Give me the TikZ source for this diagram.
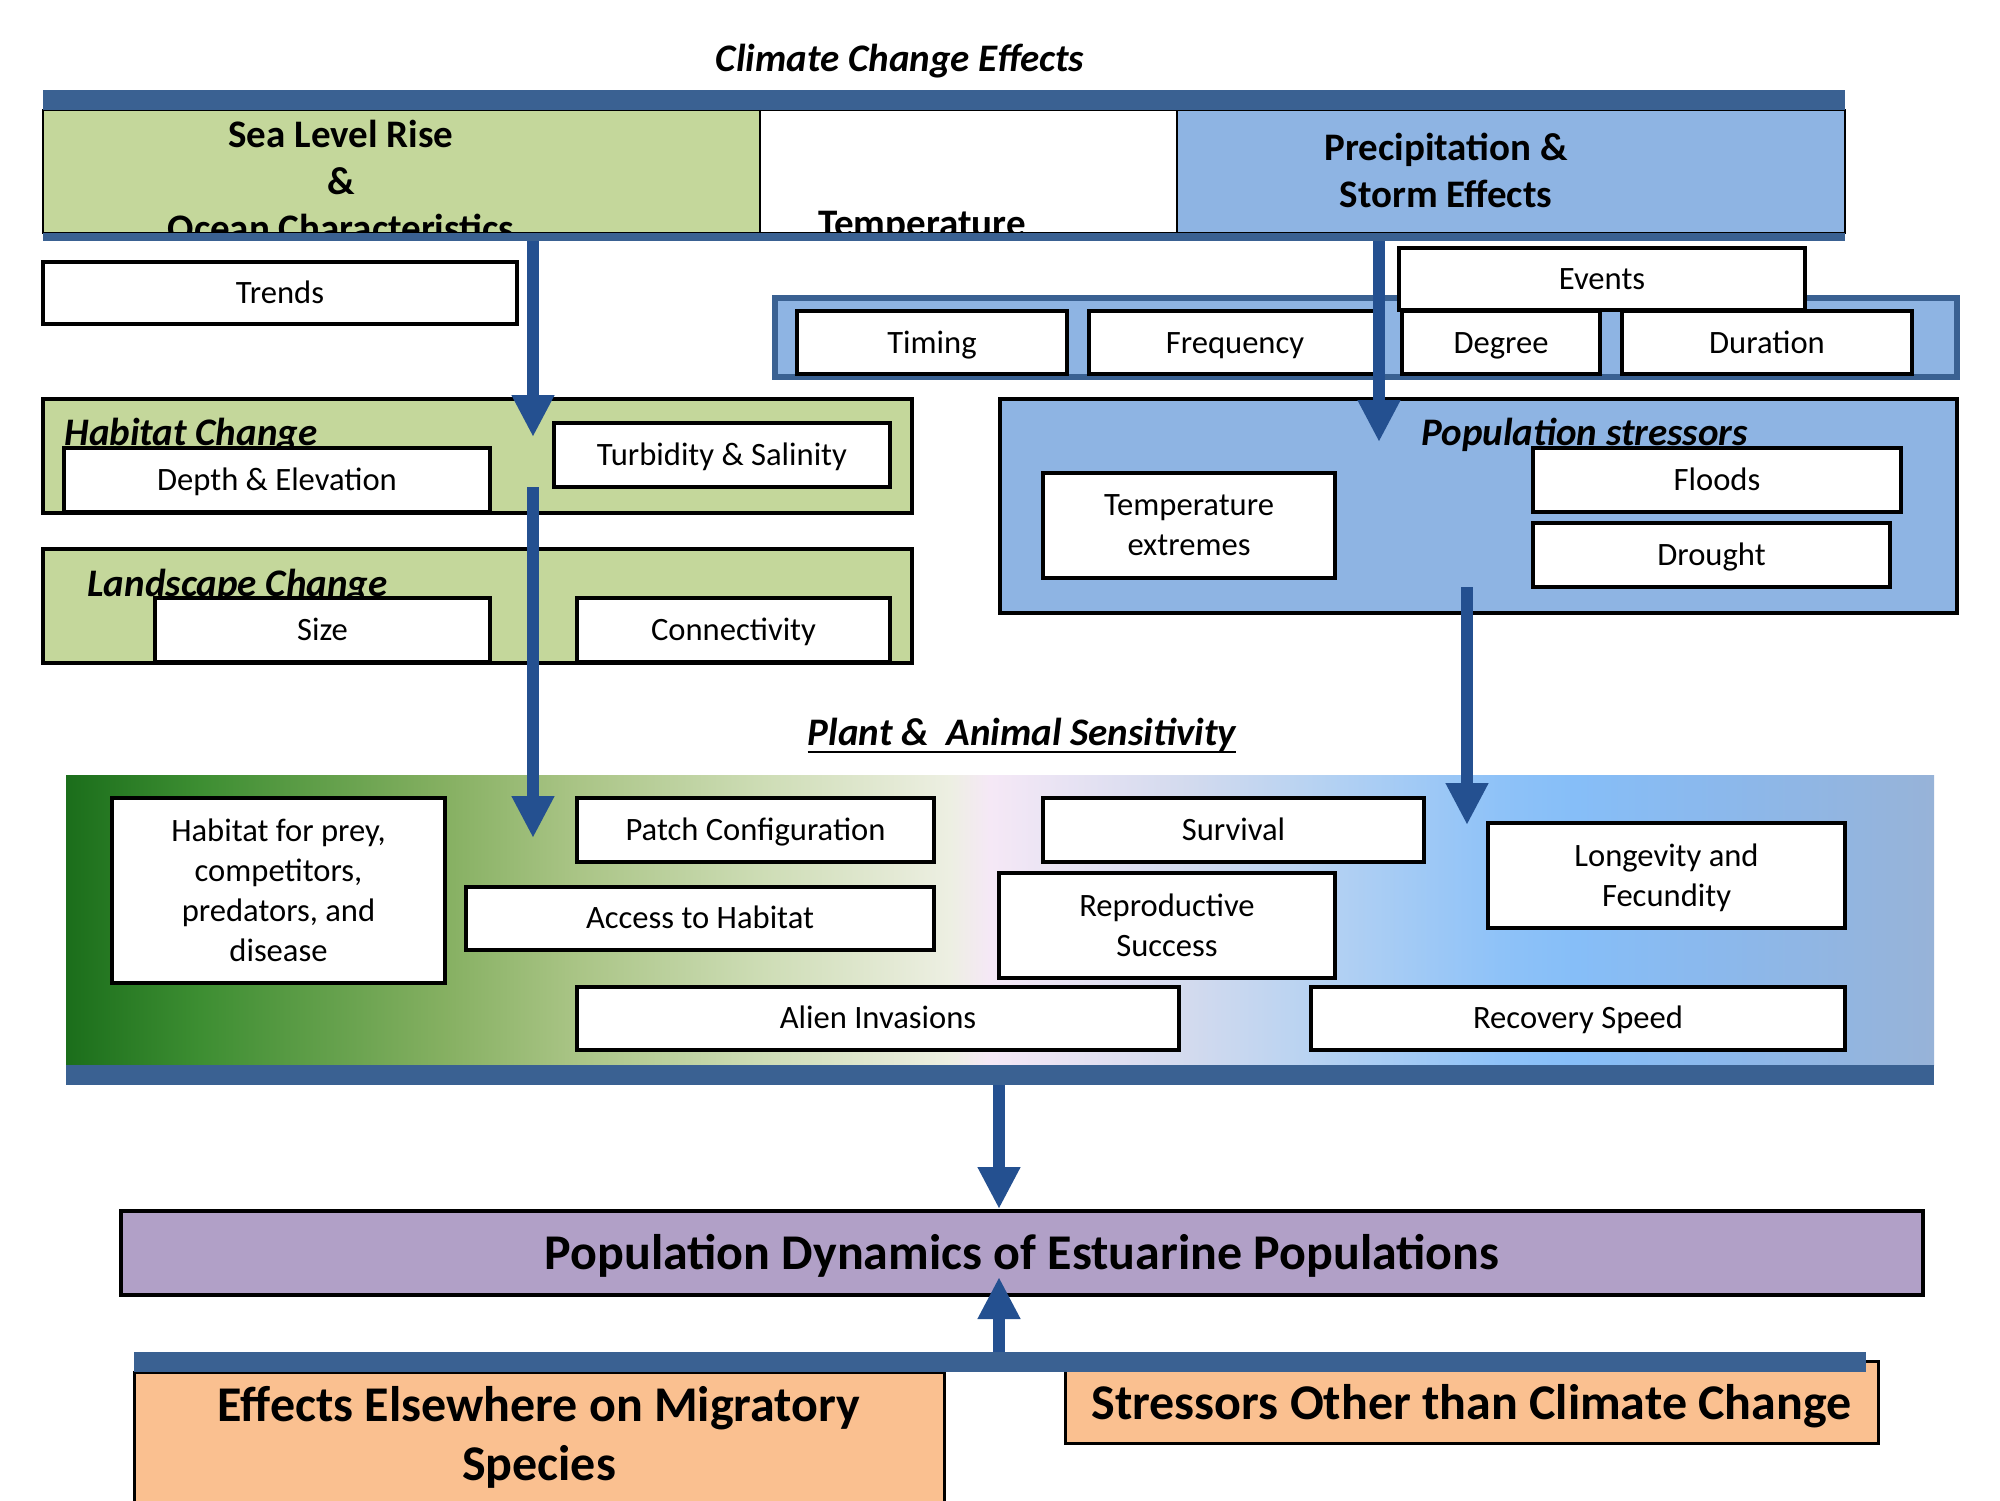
\documentclass[tikz,border=0pt]{standalone}
\usepackage{fontspec}
\setmainfont{Carlito}
\usetikzlibrary{arrows.meta}
\definecolor{barblue}{HTML}{3A6192}
\definecolor{arrowblue}{HTML}{245090}
\definecolor{panelgreen}{HTML}{C4D79B}
\definecolor{panelblue}{HTML}{8EB4E3}
\definecolor{lavender}{HTML}{B1A0C7}
\definecolor{peach}{HTML}{FAC090}
\definecolor{g0}{HTML}{1B6E1B}
\definecolor{g1}{HTML}{3D8E32}
\definecolor{g2}{HTML}{86B062}
\definecolor{g3}{HTML}{A9C485}
\definecolor{g4}{HTML}{CEDDB6}
\definecolor{g5}{HTML}{EDEFE2}
\definecolor{g6}{HTML}{F5E8F6}
\definecolor{g7}{HTML}{D2DAEE}
\definecolor{g8}{HTML}{B6D2F2}
\definecolor{g9}{HTML}{8EC2F8}
\definecolor{g10}{HTML}{86BEF8}
\definecolor{g11}{HTML}{8BB8EC}
\definecolor{g12}{HTML}{97B3D8}
\pgfdeclarehorizontalshading{bandshade}{100bp}{color(0bp)=(g0); color(25bp)=(g0); color(28.59bp)=(g1); color(35.17bp)=(g2); color(38.6bp)=(g3); color(43.71bp)=(g4); color(48.66bp)=(g5); color(49.73bp)=(g6); color(55.11bp)=(g7); color(58.54bp)=(g8); color(63.38bp)=(g9); color(65.36bp)=(g10); color(69.27bp)=(g11); color(75bp)=(g12); color(100bp)=(g12)}
\begin{document}
\begin{tikzpicture}[x=0.5pt,y=-0.5pt,
  wh/.style 2 args={minimum width=#1pt, minimum height=#2pt},
  box/.style={draw=black, line width=2.4pt, fill=white, inner sep=0pt, align=center, font=\fontsize{16.3}{20}\selectfont},
  sbox/.style={box, text height=12pt, text depth=2pt},
  rbox/.style={box, text height=12pt, text depth=1pt},
  grp/.style={draw=black, line width=1.6pt, inner sep=0pt},
  panel/.style={draw=black, line width=1.4pt, inner sep=0pt},
  hdr/.style={font=\fontsize{19.5}{23.5}\selectfont\bfseries, align=center, inner sep=0pt},
  lbl/.style={font=\fontsize{19.5}{23}\selectfont\bfseries\itshape, inner sep=0pt},
  bigbox/.style={draw=black, inner sep=0pt, align=center, font=\fontsize{25}{29.3}\selectfont\bfseries},
  bar/.style={fill=barblue, draw=none, inner sep=0pt},
  flow/.style={draw=arrowblue, line width=6pt, -{Triangle[width=20pt,length=21pt]}}]
\useasboundingbox (0,0) rectangle (2000,1500);
\clip (0,0) rectangle (2000,1500);

% title
\node[lbl, anchor=base] (title) at (900,71) {Climate Change Effects};

% top panels
\node[panel, fill=panelgreen, wh={358.5}{61.5}] (slr) at (401.5,171.5) {};
\node[panel, fill=white, wh={208.5}{61.5}] (temp) at (968.5,171.5) {};
\node[panel, fill=panelblue, wh={334}{61.5}] (precip) at (1511,171.5) {};
\begin{scope}
\clip (43,110) rectangle (1845,233);
\node[hdr] (slrt) at (341,180.5) {Sea Level Rise\\\&\\Ocean Characteristics};
\node[hdr, anchor=base] (tempt) at (922,236) {Temperature};
\end{scope}
\node[hdr] (prect) at (1446,170.5) {Precipitation \&\\Storm Effects};
\node[bar, wh={901}{10}] (topbar) at (944,100) {};
\node[bar, wh={901}{4}] (midbar) at (944,237) {};

% trends and events strip
\node[sbox, wh={237}{31}] (trends) at (280,293) {Trends};
\node[draw=barblue, line width=3pt, fill=panelblue, inner sep=0pt, wh={591}{39.5}] (strip) at (1366,337.5) {};
\node[rbox, wh={135}{31.5}] (timing) at (932,342.5) {Timing};
\node[rbox, wh={146}{31.5}] (freq) at (1235,342.5) {Frequency};
\node[rbox, wh={99}{31.5}] (degree) at (1501,342.5) {Degree};
\node[rbox, wh={145}{31.5}] (duration) at (1767,342.5) {Duration};
\node[sbox, wh={203}{31}] (events) at (1602,279) {Events};

% habitat change
\node[grp, fill=panelgreen, wh={434.5}{57}] (habgrp) at (477.5,456) {};
\node[lbl, anchor=base west] (habl) at (64,445) {Habitat Change};
\node[sbox, wh={213}{32}] (depth) at (277,480) {Depth \& Elevation};
\node[sbox, wh={168}{32}] (turb) at (722,455) {Turbidity \& Salinity};

% landscape change
\node[grp, fill=panelgreen, wh={434.5}{57}] (landgrp) at (477.5,606) {};
\node[lbl, anchor=base west] (landl) at (87,596) {Landscape Change};
\node[sbox, wh={167.5}{32}] (size) at (322.5,630) {Size};
\node[sbox, wh={156.5}{32}] (conn) at (733.5,630) {Connectivity};

% population stressors
\node[grp, fill=panelblue, wh={478.5}{107}] (popgrp) at (1478.5,506) {};
\node[lbl, anchor=base west] (popl) at (1421,445) {Population stressors};
\node[box, wh={146}{52.5}] (textr) at (1189,525.5) {Temperature\\extremes};
\node[sbox, wh={184}{32}] (floods) at (1717,480) {Floods};
\node[sbox, wh={178.5}{32}] (drought) at (1711.5,555) {Drought};

% plant & animal sensitivity
\node[lbl, anchor=base] (pas) at (1022,745) {Plant \&\ \ Animal Sensitivity};
\draw[line width=1.3pt] ([yshift=-3.5pt]pas.base west) -- ([yshift=-3.5pt]pas.base east);

\shade[shading=bandshade] (66,775) rectangle (1934,1065);
\node[bar, wh={934}{10}] (bandbar) at (1000,1075) {};
\node[box, wh={166.5}{92.5}] (prey) at (278.5,890.5) {Habitat for prey,\\competitors,\\predators, and\\disease};
\node[sbox, wh={178.5}{32}] (patch) at (755.5,830) {Patch Configuration};
\node[sbox, wh={234}{31.5}] (access) at (700,918.5) {Access to Habitat};
\node[sbox, wh={301}{31.5}] (alien) at (878,1018.5) {Alien Invasions};
\node[sbox, wh={190.5}{32}] (surv) at (1233.5,830) {Survival};
\node[box, wh={168}{52.5}] (repro) at (1167,925.5) {Reproductive\\Success};
\node[box, text depth=0pt, wh={178.5}{52.5}] (longev) at (1666.5,875.5) {Longevity and\\Fecundity};
\node[sbox, wh={267}{31.5}] (recov) at (1578,1018.5) {Recovery Speed};

% population dynamics
\node[bigbox, fill=lavender, line width=2.4pt, text height=21pt, text depth=5pt, wh={901}{42}] (pd) at (1022,1253) {Population Dynamics of Estuarine Populations};

% bottom
\node[bigbox, fill=peach, line width=1.5pt, text height=22pt, text depth=5pt, wh={406.5}{41}] (other) at (1471.5,1402) {Stressors Other than Climate Change};
\node[bigbox, fill=peach, line width=1.5pt, wh={405}{65.5}] (migr) at (539,1437.5) {Effects Elsewhere on Migratory\\Species};
\node[bar, wh={866}{10}] (botbar) at (1000,1362) {};

% connectors
\coordinate (a1e) at (533,437);
\coordinate (a2s) at (533,487);
\coordinate (a2e) at (533,838);
\coordinate (a3e) at (1379,442);
\coordinate (a4s) at (1467,587);
\coordinate (a4e) at (1467,825);
\coordinate (a5e) at (999,1209);
\coordinate (a6e) at (999,1277);
\draw[flow] (midbar.south -| a1e) -- (a1e);
\draw[flow] (a2s) -- (a2e);
\draw[flow] (midbar.south -| a3e) -- (a3e);
\draw[flow] (a4s) -- (a4e);
\draw[flow] (bandbar.south -| a5e) -- (a5e);
\draw[flow] (botbar.north -| a6e) -- (a6e);
\end{tikzpicture}
\end{document}
